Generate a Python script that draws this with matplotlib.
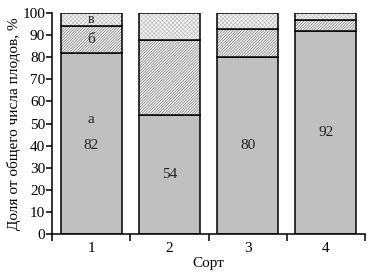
import matplotlib.pyplot as plt
import numpy as np

plt.rcParams['font.family'] = ['Liberation Serif', 'DejaVu Serif']
plt.rcParams['hatch.linewidth'] = 0.5

sorts = ['1', '2', '3', '4']
part_a = [82, 54, 80, 92]   # а
part_b = [12, 34, 13, 5]    # б
part_v = [6, 12, 7, 3]      # в
value_labels = ['82', '54', '80', '92']
label_y = [40, 27, 40, 46]

fig = plt.figure(figsize=(3.72, 2.78), dpi=100)
ax = fig.add_axes([0.14, 0.158, 0.841, 0.795])

x = np.arange(1, len(sorts) + 1)
w = 0.78
a = np.array(part_a)
b = np.array(part_b)
v = np.array(part_v)

ax.bar(x, a, w, color='#c0c0c0', edgecolor='black', linewidth=1.1)
ax.bar(x, b, w, bottom=a, color='white', edgecolor='#6a6a6a', hatch='/' * 12, linewidth=0)
ax.bar(x, b, w, bottom=a, fill=False, edgecolor='black', linewidth=1.1)
ax.bar(x, v, w, bottom=a + b, color='#f2f2f2', edgecolor='#c4c4c4', hatch='x' * 8, linewidth=0)
ax.bar(x, v, w, bottom=a + b, fill=False, edgecolor='black', linewidth=1.1)

for xi, t, yy in zip(x, value_labels, label_y):
    ax.text(xi, yy, t, ha='center', va='center', fontsize=11, color='#222222')

ax.text(1, 52, 'а', ha='center', va='center', fontsize=11, color='#222222')
ax.text(1, 88, 'б', ha='center', va='center', fontsize=11, color='#222222')
ax.text(1, 97, 'в', ha='center', va='center', fontsize=10, color='#222222')

ax.set_xlim(0.5, 4.5)
ax.set_ylim(0, 100)
ax.set_yticks(range(0, 101, 10))
ax.set_xticks(np.arange(0.5, 4.6, 1))
ax.set_xticklabels([])
ax.set_xticks(x, minor=True)
ax.set_xticklabels(sorts, minor=True)
ax.tick_params(axis='x', which='minor', length=0, pad=6, labelsize=11)
ax.tick_params(axis='x', which='major', length=5, width=1.1)
ax.tick_params(axis='y', length=4, width=1.1, labelsize=11, pad=1)

for s in ['top', 'right']:
    ax.spines[s].set_visible(False)
for s in ['left', 'bottom']:
    ax.spines[s].set_linewidth(1.1)

ax.set_ylabel('Доля от общего числа плодов, %', fontsize=11, labelpad=1)
ax.set_xlabel('Сорт', fontsize=11, labelpad=1)

fig.savefig('out.png', dpi=100)
